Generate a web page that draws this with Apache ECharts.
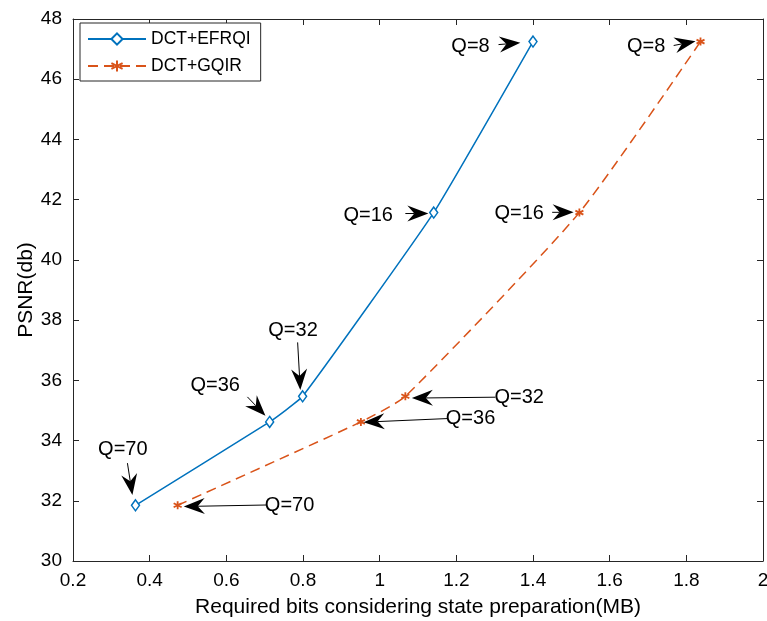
<!DOCTYPE html>
<html>
<head>
<meta charset="utf-8">
<script src="https://cdn.jsdelivr.net/npm/echarts@6/dist/echarts.min.js"></script>
<style>
    html, body { margin: 0; padding: 0; background: #fff; }
    #chart { width: 767px; height: 621px; }
</style>
</head>
<body>
<div id="chart"></div>
<script>
// PSNR vs required bits, one point per quality factor Q
const qualityLabels = ['Q=70', 'Q=36', 'Q=32', 'Q=16', 'Q=8'];
const efrqiBits = [0.363, 0.713, 0.799, 1.141, 1.400];
const efrqiPsnr = [31.85, 34.62, 35.47, 41.57, 47.25];
const gqirBits = [0.473, 0.951, 1.067, 1.521, 1.837];
const gqirPsnr = [31.85, 34.62, 35.47, 41.57, 47.25];

// arrow annotations: label, text centre, arrow tail, arrow tip (data units)
const annoLabels = ['Q=8', 'Q=16', 'Q=32', 'Q=36', 'Q=70',
                    'Q=8', 'Q=16', 'Q=32', 'Q=36', 'Q=70'];
const annoTextPos = [[1.237, 47.10], [0.970, 41.47], [0.774, 37.66], [0.571, 35.82], [0.330, 33.69],
                     [1.695, 47.10], [1.364, 41.54], [1.364, 35.42], [1.237, 34.72], [0.765, 31.86]];
const annoTail = [[1.310, 47.15], [1.067, 41.54], [0.786, 37.26], [0.655, 35.45], [0.342, 33.25],
                  [1.767, 47.12], [1.450, 41.58], [1.302, 35.44], [1.176, 34.73], [0.706, 31.86]];
const annoTip = [[1.367, 47.21], [1.127, 41.54], [0.793, 35.68], [0.702, 34.82], [0.355, 32.19],
                 [1.824, 47.26], [1.506, 41.58], [1.084, 35.41], [0.958, 34.61], [0.489, 31.81]];

const xTicks = { min: 0.2, max: 2, interval: 0.2 };
const yTicks = { min: 30, max: 48, interval: 2 };

const FONT = '"Liberation Sans", Helvetica, Arial, sans-serif';
const AXIS_COLOR = '#262626';
const BLUE = '#0072BD';
const ORANGE = '#D95319';

function renderArrow(params, api) {
    const i = params.dataIndex;
    const tail = api.coord(annoTail[i]);
    const tip = api.coord(annoTip[i]);
    const txt = api.coord(annoTextPos[i]);
    const dx = tip[0] - tail[0];
    const dy = tip[1] - tail[1];
    const len = Math.hypot(dx, dy) || 1;
    const ux = dx / len, uy = dy / len;
    const L = 21, W = 8, N = 14;
    const bx = tip[0] - ux * L, by = tip[1] - uy * L;
    const nx = tip[0] - ux * N, ny = tip[1] - uy * N;
    const px = -uy, py = ux;
    return {
        type: 'group',
        children: [
            {
                type: 'line',
                shape: { x1: tail[0], y1: tail[1], x2: nx, y2: ny },
                style: { stroke: '#000', lineWidth: 1 }
            },
            {
                type: 'polygon',
                shape: { points: [[tip[0], tip[1]], [bx + px * W, by + py * W], [nx, ny], [bx - px * W, by - py * W]] },
                style: { fill: '#000' }
            },
            {
                type: 'text',
                x: txt[0],
                y: txt[1],
                style: {
                    text: annoLabels[i],
                    align: 'center',
                    verticalAlign: 'middle',
                    font: '20px ' + FONT,
                    fill: '#000'
                }
            }
        ]
    };
}

const asterisk = 'path://M0,-5L0,5M-4.33,-2.5L4.33,2.5M-4.33,2.5L4.33,-2.5';

function frameAxis(base, extra) {
    return Object.assign({
        type: 'value',
        min: base.min,
        max: base.max,
        interval: base.interval,
        splitLine: { show: false },
        axisLine: { show: true, onZero: false, lineStyle: { color: AXIS_COLOR, width: 1 } },
        axisTick: { show: true, inside: true, length: 6, lineStyle: { color: AXIS_COLOR } }
    }, extra);
}

const chart = echarts.init(document.getElementById('chart'));

chart.setOption({
    animation: false,
    backgroundColor: '#fff',
    textStyle: { fontFamily: FONT },
    grid: { left: 73, right: 4, top: 19, bottom: 60, outerBoundsMode: 'none', containLabel: false },
    legend: {
        data: ['DCT+EFRQI', 'DCT+GQIR'],
        orient: 'vertical',
        left: 80,
        top: 23,
        itemWidth: 58,
        itemHeight: 14,
        itemGap: 9,
        padding: [7, 10, 6, 7],
        borderColor: '#262626',
        borderWidth: 1,
        backgroundColor: '#fff',
        textStyle: { fontSize: 17.5, color: '#000', fontFamily: FONT }
    },
    xAxis: [
        frameAxis(xTicks, {
            position: 'bottom',
            name: 'Required bits considering state preparation(MB)',
            nameLocation: 'middle',
            nameGap: 36,
            nameMoveOverlap: false,
            nameTextStyle: { fontSize: 21, color: '#000', fontFamily: FONT },
            axisLabel: { fontSize: 19, color: '#000', margin: 10, fontFamily: FONT }
        }),
        frameAxis(xTicks, { position: 'top', axisLabel: { show: false } })
    ],
    yAxis: [
        frameAxis(yTicks, {
            position: 'left',
            name: 'PSNR(db)',
            nameLocation: 'middle',
            nameGap: 36,
            nameMoveOverlap: false,
            nameTextStyle: { fontSize: 21, color: '#000', fontFamily: FONT },
            axisLabel: { fontSize: 19, color: '#000', margin: 11, fontFamily: FONT }
        }),
        frameAxis(yTicks, { position: 'right', axisLabel: { show: false } })
    ],
    series: [
        {
            name: 'DCT+EFRQI',
            type: 'line',
            data: efrqiBits.map((x, i) => [x, efrqiPsnr[i]]),
            smooth: 0.12,
            symbol: 'diamond',
            symbolSize: [8, 11],
            showSymbol: true,
            lineStyle: { color: BLUE, width: 1.5 },
            itemStyle: { color: '#fff', borderColor: BLUE, borderWidth: 1.5 },
            z: 3
        },
        {
            name: 'DCT+GQIR',
            type: 'line',
            data: gqirBits.map((x, i) => [x, gqirPsnr[i]]),
            smooth: 0.18,
            symbol: asterisk,
            symbolSize: 8,
            showSymbol: true,
            lineStyle: { color: ORANGE, width: 1.5, type: [10, 6] },
            itemStyle: { color: ORANGE, borderColor: ORANGE, borderWidth: 1.8 },
            z: 3
        },
        {
            name: 'annotations',
            type: 'custom',
            renderItem: renderArrow,
            data: annoTip.map((p, i) => [p[0], p[1], i]),
            encode: { x: 0, y: 1 },
            clip: false,
            silent: true,
            z: 5
        }
    ]
});
</script>
</body>
</html>
